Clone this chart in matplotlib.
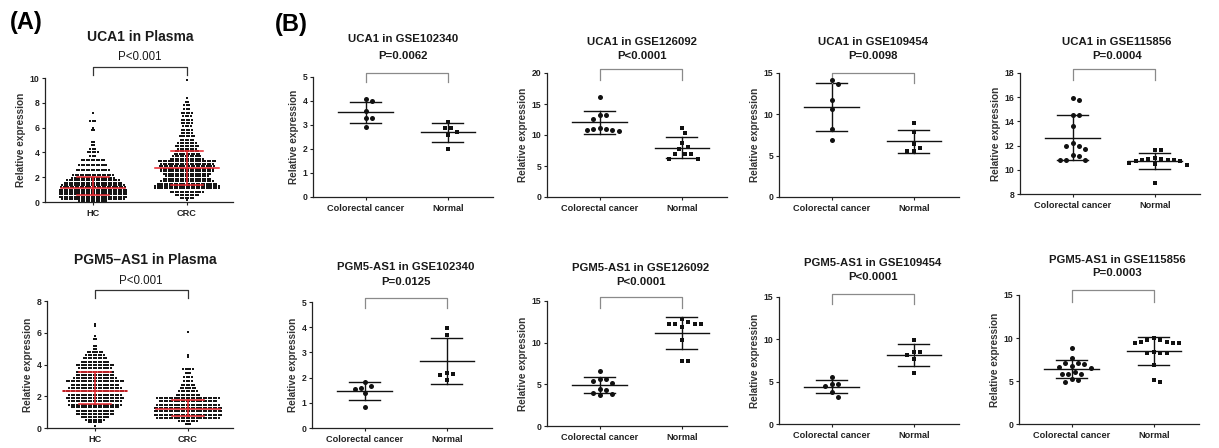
import numpy as np
import matplotlib
matplotlib.use("Agg")
import matplotlib.pyplot as plt

plt.rcParams['font.family'] = ['Liberation Sans', 'DejaVu Sans']

# ------------------------------------------------------------------ data
plasma_categories = ["HC", "CRC"]
geo_categories = ["Colorectal cancer", "Normal"]

# Panel A: beeswarm rows -> value level and number of dots on that row
uca1_hc_levels = [0.05, 0.24, 0.43, 0.62, 0.80, 0.99, 1.18, 1.37, 1.56, 1.75, 1.94, 2.20,
                  2.58, 2.98, 3.39, 3.75, 4.06, 4.30, 4.60, 4.85, 5.80, 6.00, 6.50, 7.20]
uca1_hc_counts = [12, 26, 28, 28, 28, 28, 27, 26, 24, 22, 18, 17, 14, 12, 10, 3, 5, 3, 2, 2,
                  2, 1, 3, 1]
uca1_crc_levels = [0.15, 0.30, 0.57, 0.83, 1.10, 1.27, 1.46, 1.67, 1.89, 2.07, 2.26, 2.47,
                   2.69, 2.88, 3.07, 3.28, 3.49, 3.68, 3.87, 4.09, 4.30, 4.48, 4.75, 5.02,
                   5.30, 5.56, 5.83, 6.10, 6.38, 6.65, 6.90, 7.20, 7.50, 7.80, 8.10, 8.40, 9.84]
uca1_crc_counts = [1, 6, 10, 14, 27, 27, 25, 22, 20, 18, 20, 22, 22, 23, 22, 24, 14, 12, 11,
                   10, 8, 10, 8, 6, 7, 5, 5, 4, 5, 5, 4, 5, 3, 3, 2, 1, 1]
pgm5_hc_levels = [0.15, 0.36, 0.51, 0.67, 0.88, 1.09, 1.30, 1.47, 1.68, 1.89, 2.10, 2.31,
                  2.52, 2.73, 2.94, 3.15, 3.33, 3.54, 3.75, 3.96, 4.17, 4.38, 4.59, 4.80,
                  5.00, 5.18, 5.60, 5.80, 6.40, 6.55]
pgm5_hc_counts = [1, 6, 8, 12, 16, 16, 20, 22, 22, 24, 22, 26, 22, 20, 24, 18, 16, 16, 14,
                  16, 12, 10, 8, 7, 2, 2, 2, 1, 1, 1]
pgm5_crc_levels = [0.25, 0.42, 0.63, 0.84, 1.05, 1.26, 1.47, 1.68, 1.89, 2.10, 2.31, 2.52,
                   2.73, 2.94, 3.19, 3.44, 3.71, 4.45, 4.61, 6.05]
pgm5_crc_counts = [3, 8, 26, 28, 28, 28, 26, 24, 26, 10, 8, 7, 6, 4, 4, 3, 5, 1, 1, 1]

# Panel A summary lines (centre line, lower and upper bars)
uca1_plasma_mid = [1.15, 2.72]
uca1_plasma_low = [0.55, 1.37]
uca1_plasma_high = [2.05, 4.10]
pgm5_plasma_mid = [2.35, 1.22]
pgm5_plasma_low = [1.51, 0.78]
pgm5_plasma_high = [3.54, 1.76]

# Panel B: individual samples
uca1_gse102340_crc = [4.07, 3.98, 3.59, 3.31, 3.31, 2.93]
uca1_gse102340_normal = [3.13, 2.89, 2.89, 2.72, 2.58, 2.00]
uca1_gse126092_crc = [16.2, 13.2, 13.2, 12.6, 11.1, 10.9, 10.9, 10.8, 10.75, 10.6]
uca1_gse126092_normal = [11.2, 10.3, 8.7, 8.1, 7.8, 7.0, 6.9, 6.9, 6.2, 6.2]
uca1_gse109454_crc = [14.2, 13.7, 11.7, 10.6, 8.2, 6.9]
uca1_gse109454_normal = [8.9, 7.9, 6.4, 5.9, 5.6, 5.6]
uca1_gse115856_crc = [15.9, 15.75, 14.55, 14.5, 13.6, 12.2, 12.0, 12.0, 11.75, 11.2, 11.15,
                      10.85, 10.8, 10.8]
uca1_gse115856_normal = [11.6, 11.6, 11.0, 10.9, 10.9, 10.85, 10.8, 10.8, 10.75, 10.7, 10.55,
                         10.45, 10.4, 8.9]
pgm5_gse102340_crc = [1.84, 1.67, 1.60, 1.54, 1.38, 0.83]
pgm5_gse102340_normal = [3.95, 3.68, 2.20, 2.14, 2.10, 1.91]
pgm5_gse126092_crc = [6.6, 5.6, 5.6, 5.4, 5.2, 4.5, 4.3, 4.0, 3.9, 3.7]
pgm5_gse126092_normal = [12.8, 12.5, 12.3, 12.2, 12.2, 12.2, 11.9, 10.3, 7.8, 7.8]
pgm5_gse109454_crc = [5.53, 4.70, 4.70, 4.54, 3.83, 3.24]
pgm5_gse109454_normal = [9.95, 8.50, 8.45, 8.17, 7.70, 6.00]
pgm5_gse115856_crc = [8.88, 7.64, 7.05, 7.05, 6.98, 6.74, 6.67, 6.47, 6.05, 5.85, 5.85, 5.80,
                      5.19, 5.10, 4.84]
pgm5_gse115856_normal = [9.96, 9.77, 9.77, 9.57, 9.57, 9.46, 9.46, 9.38, 8.41, 8.29, 8.22,
                         8.22, 6.86, 5.12, 4.84]

plasma_titles = ["UCA1 in Plasma", "PGM5\u2013AS1 in Plasma"]
plasma_pvalues = ["P<0.001", "P<0.001"]
geo_titles = ["UCA1 in GSE102340", "UCA1 in GSE126092", "UCA1 in GSE109454", "UCA1 in GSE115856",
              "PGM5-AS1 in GSE102340", "PGM5-AS1 in GSE126092", "PGM5-AS1 in GSE109454",
              "PGM5-AS1 in GSE115856"]
geo_pvalues = ["P=0.0062", "P<0.0001", "P=0.0098", "P=0.0004",
               "P=0.0125", "P<0.0001", "P<0.0001", "P=0.0003"]
geo_yticks = [[0, 1, 2, 3, 4, 5], [0, 5, 10, 15, 20], [0, 5, 10, 15], [8, 10, 12, 14, 16, 18],
              [0, 1, 2, 3, 4, 5], [0, 5, 10, 15], [0, 5, 10, 15], [0, 5, 10, 15]]

# ------------------------------------------------------------------ figure
W, H = 1219, 448
fig = plt.figure(figsize=(W / 100, H / 100), dpi=100)

TXT = '#1a1a1a'


def px_axes(left, right, top, bottom):
    return fig.add_axes([left / W, 1 - bottom / H, (right - left) / W, (bottom - top) / H])


def ftext(x, y, s, **kw):
    fig.text(x / W, 1 - y / H, s, ha=kw.pop('ha', 'center'), va=kw.pop('va', 'center'),
             color=kw.pop('color', TXT), **kw)


def style_axes(ax, yticks, xlabels):
    for side in ('top', 'right'):
        ax.spines[side].set_visible(False)
    for side in ('left', 'bottom'):
        ax.spines[side].set_linewidth(0.9)
        ax.spines[side].set_color('#222222')
    ax.set_yticks(yticks)
    ax.set_ylim(yticks[0], yticks[-1])
    ax.set_xticks([0, 1])
    ax.set_xticklabels(xlabels, fontsize=6.6, fontweight='bold', color=TXT)
    ax.tick_params(axis='y', length=2.4, width=0.8, pad=1.5, labelsize=6.2, colors='#222222')
    ax.tick_params(axis='x', length=2.4, width=0.8, pad=2.5, colors='#222222')
    for lab in ax.get_yticklabels():
        lab.set_fontweight('bold')
    ax.set_ylabel("Relative expression", fontsize=7.2, fontweight='bold', color='#333333',
                  labelpad=3)


def bracket(ax, h_px, up_px, end_px, color, lw=0.9):
    tr = ax.get_xaxis_transform()
    yt = 1 + up_px / h_px
    ye = 1 + end_px / h_px
    ax.plot([0, 0, 1, 1], [ye, yt, yt, ye], color=color, lw=lw, transform=tr, clip_on=False)


# ---------------- Panel A
plasma_layout = [
    dict(box=(45, 233, 78, 202), xlim=(-0.51, 1.49), yticks=[0, 2, 4, 6, 8, 10],
         title=(140, 37), p=(140, 57)),
    dict(box=(47, 233, 301, 428), xlim=(-0.516, 1.484), yticks=[0, 2, 4, 6, 8],
         title=(145, 260), p=(141, 281)),
]
plasma_rows = [
    [(uca1_hc_levels, uca1_hc_counts), (uca1_crc_levels, uca1_crc_counts)],
    [(pgm5_hc_levels, pgm5_hc_counts), (pgm5_crc_levels, pgm5_crc_counts)],
]
plasma_lines = [
    (uca1_plasma_mid, uca1_plasma_low, uca1_plasma_high),
    (pgm5_plasma_mid, pgm5_plasma_low, pgm5_plasma_high),
]

for k in range(2):
    L = plasma_layout[k]
    l, r, t, b = L['box']
    ax = px_axes(l, r, t, b)
    ax.set_xlim(*L['xlim'])
    style_axes(ax, L['yticks'], plasma_categories)
    x_ppu = (r - l) / (L['xlim'][1] - L['xlim'][0])
    pitch = 2.45 / x_ppu
    for g, (levels, counts) in enumerate(plasma_rows[k]):
        xs, ys = [], []
        for lev, n in zip(levels, counts):
            offs = (np.arange(n) - (n - 1) / 2) * pitch
            xs.extend(g + offs)
            ys.extend([lev] * n)
        ax.scatter(xs, ys, s=1.7, marker='s', color='#151515', linewidths=0, zorder=2,
                   clip_on=False)
    mid, low, high = plasma_lines[k]
    for g in range(2):
        ax.plot([g - 0.34, g + 0.34], [mid[g]] * 2, color='#e8262d', lw=1.1, zorder=3)
        ax.plot([g - 0.17, g + 0.17], [low[g]] * 2, color='#e8262d', lw=1.1, zorder=3)
        ax.plot([g - 0.17, g + 0.17], [high[g]] * 2, color='#e8262d', lw=1.1, zorder=3)
        ax.plot([g, g], [low[g], high[g]], color='#e8262d', lw=1.1, zorder=3)
    bracket(ax, b - t, 11, 3, '#333333', lw=0.9)
    ftext(*L['title'], plasma_titles[k], fontsize=10, fontweight='bold')
    ftext(*L['p'], plasma_pvalues[k], fontsize=8.3)

ftext(10, 23, "(A)", fontsize=17, fontweight='bold', ha='left', color='black')
ftext(275, 24, "(B)", fontsize=17, fontweight='bold', ha='left', color='black')

# ---------------- Panel B
geo_data = [
    (uca1_gse102340_crc, uca1_gse102340_normal),
    (uca1_gse126092_crc, uca1_gse126092_normal),
    (uca1_gse109454_crc, uca1_gse109454_normal),
    (uca1_gse115856_crc, uca1_gse115856_normal),
    (pgm5_gse102340_crc, pgm5_gse102340_normal),
    (pgm5_gse126092_crc, pgm5_gse126092_normal),
    (pgm5_gse109454_crc, pgm5_gse109454_normal),
    (pgm5_gse115856_crc, pgm5_gse115856_normal),
]
geo_boxes = [(313, 77, 197), (547, 73, 197), (779, 73, 197), (1020, 73, 194),
             (312, 302, 428), (547, 301, 426), (779, 297, 424), (1019, 295, 424)]
geo_title_pos = [(403, 39, 56), (642, 42, 56), (873, 42, 56), (1117, 42, 56),
                 (406, 267, 282), (641, 268, 282), (873, 263, 277), (1117, 260, 273)]
geo_brackets = [(4, -5), (4, -7), (0, -10), (4, -7), (4, -6), (4, -7), (3, -7), (5, -7)]
XLIM = (-0.64, 1.55)
AX_W = 180


def swarm_x(values, center, y_ppu, x_ppu, d=5.0):
    vals = np.asarray(values, float)
    order = np.argsort(-vals, kind='stable')
    placed = []
    xs = np.empty(len(vals))
    for i in order:
        y = vals[i] * y_ppu
        off = 0.0
        for kk in range(0, 80):
            step = (kk + 1) // 2
            off = step * (d / 2) * (1 if kk % 2 == 1 else -1) if kk else 0.0
            if all((off - px) ** 2 + (y - py) ** 2 >= d * d for px, py in placed):
                break
        placed.append((off, y))
        xs[i] = center + off / x_ppu
    return xs


for k in range(8):
    l, t, b = geo_boxes[k]
    ax = px_axes(l, l + AX_W, t, b)
    ax.set_xlim(*XLIM)
    yt = geo_yticks[k]
    style_axes(ax, yt, geo_categories)
    x_ppu = AX_W / (XLIM[1] - XLIM[0])
    y_ppu = (b - t) / (yt[-1] - yt[0])
    for g, (vals, mk) in enumerate(zip(geo_data[k], ['o', 's'])):
        v = np.asarray(vals, float)
        xs = swarm_x(v, g, y_ppu, x_ppu, d=6.4)
        ax.plot(xs, v, linestyle='none', marker=mk, ms=3.6 if mk == 'o' else 3.3,
                color='#111111', mew=0, zorder=3, clip_on=False)
        m = v.mean()
        sd = v.std(ddof=1)
        ax.plot([g - 0.33, g + 0.33], [m, m], color='#111111', lw=1.0, zorder=2)
        ax.plot([g - 0.19, g + 0.19], [m - sd] * 2, color='#111111', lw=1.0, zorder=2)
        ax.plot([g - 0.19, g + 0.19], [m + sd] * 2, color='#111111', lw=1.0, zorder=2)
        ax.plot([g, g], [m - sd, m + sd], color='#111111', lw=1.0, zorder=2)
    up, end = geo_brackets[k]
    bracket(ax, b - t, up, end, '#8a8a8a', lw=0.9)
    cx, y1, y2 = geo_title_pos[k]
    ftext(cx, y1, geo_titles[k], fontsize=8.2, fontweight='bold')
    ftext(cx, y2, geo_pvalues[k], fontsize=8.2, fontweight='bold')

fig.savefig("out.png", dpi=100, facecolor='white')
